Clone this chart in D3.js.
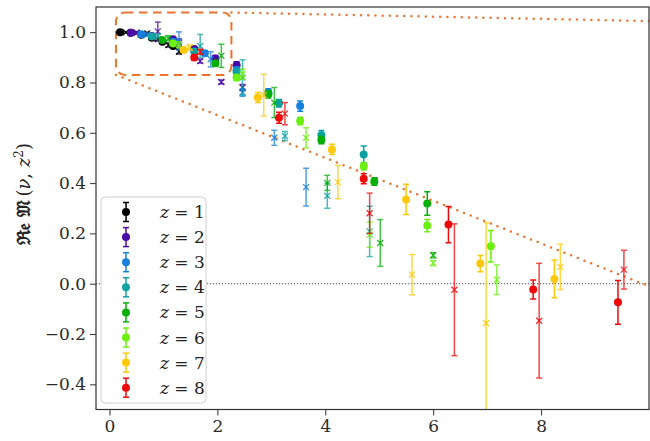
<!DOCTYPE html>
<html><head><meta charset="utf-8">
<script src="https://cdn.jsdelivr.net/npm/d3@7"></script>
<style>
body{margin:0;background:#fff}
svg{display:block}
svg text{font-family:'DejaVu Serif','Liberation Serif',serif;fill:#222}
</style>
</head><body>
<svg id="chart" width="650" height="441"></svg>
<script>
// Separation values z and their colours
const zValues = [1, 2, 3, 4, 5, 6, 7, 8];
const zColors = ["#000000", "#4c0ca6", "#1a7fdc", "#13a3a3", "#08b008", "#6ef010", "#ffc80a", "#ee0a0a"];

// Ioffe time nu for the filled-circle series, one row per z
const nuDot = [
  [0.196, 0.393, 0.589, 0.785, 0.982, 1.178],
  [0.393, 0.785, 1.178, 1.571, 1.963, 2.356],
  [0.589, 1.178, 1.767, 2.356, 2.945, 3.534],
  [0.785, 1.571, 2.356, 3.142, 3.927, 4.712],
  [0.982, 1.963, 2.945, 3.927, 4.909, 5.890],
  [1.178, 2.356, 3.534, 4.712, 5.890, 7.069],
  [1.374, 2.749, 4.123, 5.498, 6.872, 8.247],
  [1.571, 3.142, 4.712, 6.283, 7.854, 9.425]
];
const valDot = [
  [1.000, 0.998, 0.990, 0.978, 0.962, 0.945],
  [0.998, 0.985, 0.972, 0.933, 0.895, 0.868],
  [0.992, 0.962, 0.916, 0.850, 0.760, 0.706],
  [0.983, 0.923, 0.842, 0.717, 0.591, 0.514],
  [0.969, 0.876, 0.753, 0.571, 0.406, 0.319],
  [0.955, 0.820, 0.647, 0.467, 0.231, 0.149],
  [0.929, 0.740, 0.534, 0.335, 0.080, 0.019],
  [0.899, 0.660, 0.417, 0.235, -0.023, -0.074]
];
const errDot = [
  [0.002, 0.003, 0.004, 0.005, 0.006, 0.007],
  [0.003, 0.005, 0.008, 0.010, 0.012, 0.014],
  [0.004, 0.008, 0.010, 0.012, 0.015, 0.020],
  [0.005, 0.008, 0.012, 0.015, 0.018, 0.033],
  [0.006, 0.010, 0.015, 0.015, 0.015, 0.047],
  [0.007, 0.012, 0.015, 0.015, 0.024, 0.063],
  [0.008, 0.020, 0.020, 0.060, 0.032, 0.075],
  [0.010, 0.022, 0.020, 0.072, 0.038, 0.087]
];

// Cross series (slightly shifted in nu)
const nuCross = [
  [0.306, 0.503, 0.699, 0.895, 1.092, 1.288],
  [0.503, 0.895, 1.288, 1.681, 2.073, 2.466],
  [0.699, 1.288, 1.877, 2.466, 3.055, 3.644],
  [0.895, 1.681, 2.466, 3.252, 4.037, 4.822],
  [1.092, 2.073, 3.055, 4.037, 5.019, 6.000],
  [1.288, 2.466, 3.644, 4.822, 6.000, 7.179],
  [1.484, 2.859, 4.233, 5.608, 6.982, 8.357],
  [1.681, 3.252, 4.822, 6.393, 7.964, 9.535]
];
const valCross = [
  [0.999, 0.998, 0.995, 0.972, 0.949, 0.923],
  [0.997, 1.003, 0.958, 0.885, 0.802, 0.780],
  [0.990, 0.965, 0.892, 0.760, 0.580, 0.384],
  [0.985, 0.945, 0.820, 0.587, 0.350, 0.208],
  [0.976, 0.906, 0.720, 0.401, 0.162, 0.113],
  [0.950, 0.833, 0.580, 0.195, 0.082, 0.016],
  [0.939, 0.750, 0.404, 0.036, -0.157, 0.067],
  [0.922, 0.676, 0.280, -0.024, -0.147, 0.056]
];
const errCross = [
  [0.003, 0.004, 0.005, 0.006, 0.008, 0.010],
  [0.005, 0.037, 0.015, 0.008, 0.008, 0.012],
  [0.006, 0.036, 0.030, 0.015, 0.030, 0.075],
  [0.008, 0.046, 0.070, 0.018, 0.050, 0.100],
  [0.010, 0.046, 0.060, 0.030, 0.093, 0.010],
  [0.012, 0.020, 0.040, 0.050, 0.010, 0.059],
  [0.010, 0.083, 0.066, 0.080, 0.400, 0.090],
  [0.010, 0.044, 0.080, 0.262, 0.228, 0.077]
];

const xTicks = [0, 2, 4, 6, 8];
const yTicks = [-0.4, -0.2, 0.0, 0.2, 0.4, 0.6, 0.8, 1.0];

// Zoom-region box (nu range, value range) and the guide lines leaving it
const zoomBox = {x0: 0.12, x1: 2.26, y0: 0.83, y1: 1.078};
const guideLines = [
  [[2.26, 1.078], [10.0, 1.044]],
  [[0.12, 0.83], [10.0, -0.01]]
];

const serif = "'DejaVu Serif','Liberation Serif',serif";
const svg = d3.select("#chart");
const W = 650, H = 441;
const m = {left: 96, right: 1, top: 7, bottom: 31.5};

const x = d3.scaleLinear().domain([-0.25, 10]).range([m.left, W - m.right]);
const y = d3.scaleLinear().domain([-0.5, 1.1]).range([H - m.bottom, m.top]);

svg.append("defs").append("clipPath").attr("id", "plotclip")
  .append("rect").attr("x", x.range()[0]).attr("y", y.range()[1])
  .attr("width", x.range()[1] - x.range()[0]).attr("height", y.range()[0] - y.range()[1]);

const plot = svg.append("g").attr("clip-path", "url(#plotclip)");

// zero reference line
plot.append("line")
  .attr("x1", x.range()[0]).attr("x2", x.range()[1])
  .attr("y1", y(0)).attr("y2", y(0))
  .attr("stroke", "#707070").attr("stroke-width", 1.2)
  .attr("stroke-dasharray", "1.2 1.8");

// zoom indicator
const orange = "#ec7530";
plot.append("rect")
  .attr("x", x(zoomBox.x0)).attr("y", y(zoomBox.y1))
  .attr("width", x(zoomBox.x1) - x(zoomBox.x0))
  .attr("height", y(zoomBox.y0) - y(zoomBox.y1))
  .attr("rx", 9).attr("ry", 9)
  .attr("fill", "none").attr("stroke", orange).attr("stroke-width", 2)
  .attr("stroke-dasharray", "8.5 5.5");

plot.selectAll("line.guide").data(guideLines).join("line")
  .attr("class", "guide")
  .attr("x1", d => x(d[0][0])).attr("y1", d => y(d[0][1]))
  .attr("x2", d => x(d[1][0])).attr("y2", d => y(d[1][1]))
  .attr("stroke", orange).attr("stroke-width", 2.5)
  .attr("stroke-linecap", "round").attr("stroke-dasharray", "0 7.2");

// error bars + markers
const cap = 3;
function errorBars(g, pts, color, opacity) {
  const eg = g.append("g").attr("stroke", color).attr("stroke-width", 1.5).attr("opacity", opacity);
  eg.selectAll("line.v").data(pts).join("line").attr("class", "v")
    .attr("x1", d => x(d.nu)).attr("x2", d => x(d.nu))
    .attr("y1", d => y(d.v - d.e)).attr("y2", d => y(d.v + d.e));
  eg.selectAll("line.t").data(pts).join("line").attr("class", "t")
    .attr("x1", d => x(d.nu) - cap).attr("x2", d => x(d.nu) + cap)
    .attr("y1", d => y(d.v + d.e)).attr("y2", d => y(d.v + d.e));
  eg.selectAll("line.b").data(pts).join("line").attr("class", "b")
    .attr("x1", d => x(d.nu) - cap).attr("x2", d => x(d.nu) + cap)
    .attr("y1", d => y(d.v - d.e)).attr("y2", d => y(d.v - d.e));
}

zValues.forEach((z, i) => {
  const color = zColors[i];
  const g = plot.append("g");
  const dots = nuDot[i].map((nu, j) => ({nu, v: valDot[i][j], e: errDot[i][j]}));
  const crosses = nuCross[i].map((nu, j) => ({nu, v: valCross[i][j], e: errCross[i][j]}));

  errorBars(g, crosses, color, 0.75);
  const cs = 3;
  const cg = g.append("g").attr("stroke", color).attr("stroke-width", 1.3).attr("opacity", 0.85);
  cg.selectAll("path").data(crosses).join("path")
    .attr("d", d => {
      const px = x(d.nu), py = y(d.v);
      return `M${px - cs},${py - cs}L${px + cs},${py + cs}M${px - cs},${py + cs}L${px + cs},${py - cs}`;
    });

  errorBars(g, dots, color, 1);
  g.append("g").selectAll("circle").data(dots).join("circle")
    .attr("cx", d => x(d.nu)).attr("cy", d => y(d.v)).attr("r", 4)
    .attr("fill", color);
});

// axes
const axisColor = "#333";
const xAxis = svg.append("g").attr("transform", `translate(0,${y.range()[0]})`)
  .call(d3.axisBottom(x).tickValues(xTicks).tickFormat(d3.format("d")).tickSize(6).tickPadding(4));
const yAxis = svg.append("g").attr("transform", `translate(${x.range()[0]},0)`)
  .call(d3.axisLeft(y).tickValues(yTicks).tickFormat(d => d3.format(".1f")(d).replace("-", "\u2212")).tickSize(6).tickPadding(4));
[xAxis, yAxis].forEach(a => {
  a.attr("font-family", null);
  a.select(".domain").remove();
  a.selectAll(".tick line").attr("stroke", axisColor).attr("stroke-width", 1);
  a.selectAll(".tick text").style("font-family", serif)
    .attr("font-size", 17).style("fill", "#2a2a2a");
});

// frame
svg.append("rect")
  .attr("x", x.range()[0]).attr("y", y.range()[1])
  .attr("width", x.range()[1] - x.range()[0]).attr("height", y.range()[0] - y.range()[1])
  .attr("fill", "none").attr("stroke", axisColor).attr("stroke-width", 1.2);

// y label
const yl = svg.append("text")
  .attr("transform", `translate(30,${(y.range()[0] + y.range()[1]) / 2 - 14}) rotate(-90)`)
  .attr("text-anchor", "middle").attr("font-size", 18).style("font-family", serif);
yl.append("tspan").attr("font-weight", "bold").text("\u211C\uD835\uDD22 \uD835\uDD10");
yl.append("tspan").text("\u2009(");
yl.append("tspan").attr("font-style", "italic").text("\u03BD");
yl.append("tspan").text(", ");
yl.append("tspan").attr("font-style", "italic").text("z");
yl.append("tspan").attr("font-size", 12).attr("dy", -7).text("2");
yl.append("tspan").attr("dy", 7).text(")");

// legend
const lg = svg.append("g").attr("transform", "translate(101,197)");
lg.append("rect").attr("width", 105).attr("height", 206).attr("rx", 4)
  .attr("fill", "#fff")
  .attr("stroke", "#d0d0d0").attr("stroke-width", 1);
const items = lg.selectAll("g.item").data(zValues).join("g").attr("class", "item")
  .attr("transform", (d, i) => `translate(0,${15 + i * 25.1})`);
items.append("line").attr("x1", 25).attr("x2", 25).attr("y1", -9.5).attr("y2", 9.5)
  .attr("stroke", (d, i) => zColors[i]).attr("stroke-width", 1.5);
items.append("line").attr("x1", 22).attr("x2", 28).attr("y1", -9.5).attr("y2", -9.5)
  .attr("stroke", (d, i) => zColors[i]).attr("stroke-width", 1.5);
items.append("line").attr("x1", 22).attr("x2", 28).attr("y1", 9.5).attr("y2", 9.5)
  .attr("stroke", (d, i) => zColors[i]).attr("stroke-width", 1.5);
items.append("circle").attr("cx", 25).attr("r", 4).attr("fill", (d, i) => zColors[i]);
const lt = items.append("text").attr("x", 59).attr("y", 6).attr("font-size", 17).style("font-family", serif);
lt.append("tspan").attr("font-style", "italic").text("z");
lt.append("tspan").text(" = ");
lt.append("tspan").text(d => d);
</script>
</body></html>
